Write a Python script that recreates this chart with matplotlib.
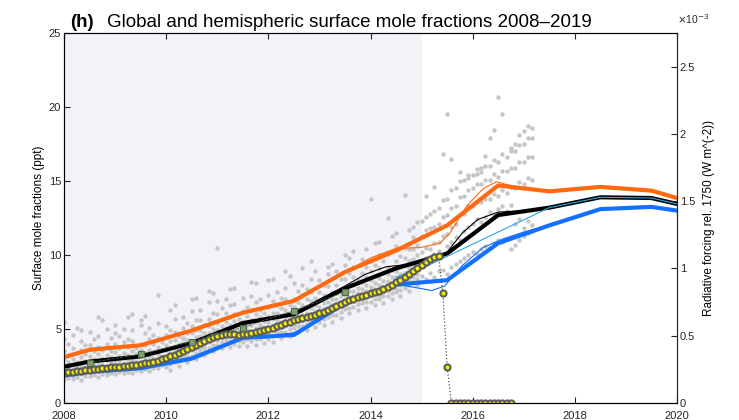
import numpy as np
import matplotlib
matplotlib.use("Agg")
import matplotlib.pyplot as plt
from matplotlib.ticker import FuncFormatter

plt.rcParams['font.family'] = ['Liberation Sans', 'DejaVu Sans']

# annual means (mid-year) plus end points, ppt
yr = [2008.0, 2008.5, 2009.5, 2010.5, 2011.5, 2012.5, 2013.5, 2014.5,
      2015.5, 2016.5, 2017.5, 2018.5, 2019.5, 2020.0]
nh = [3.1, 3.6, 3.9, 4.9, 6.1, 6.9, 8.85, 10.3, 12.0, 14.7, 14.3, 14.6, 14.35, 13.85]
glob = [2.45, 2.8, 3.15, 4.05, 5.4, 6.0, 7.75, 9.1, 10.1, 12.7, 13.2, 13.9, 13.85, 13.45]
sh = [1.85, 2.1, 2.35, 3.0, 4.4, 4.6, 6.75, 8.0, 8.3, 10.8, 12.0, 13.1, 13.25, 13.0]

# smoothed fits (thin lines)
nh_fit_x = [2008.0, 2008.5, 2009.0, 2009.5, 2010.0, 2010.5, 2011.0, 2011.5, 2012.0, 2012.5,
            2013.0, 2013.5, 2014.0, 2014.5, 2014.97, 2015.36, 2015.56, 2015.88, 2016.21,
            2016.47, 2016.73, 2017.0, 2017.5]
nh_fit = [3.05, 3.5, 3.75, 3.95, 4.35, 4.95, 5.55, 6.15, 6.5, 6.95, 7.9, 8.85, 9.8, 10.45,
          10.5, 10.8, 11.5, 13.3, 14.5, 14.95, 14.7, 14.5, 14.3]
gl_fit_x = [2008.0, 2008.5, 2009.0, 2009.5, 2010.0, 2010.5, 2011.0, 2011.5, 2012.0, 2012.5,
            2013.0, 2013.5, 2013.9, 2014.3, 2014.7, 2015.1, 2015.5, 2015.8, 2016.1, 2016.5,
            2017.0, 2017.5]
gl_fit = [2.45, 2.75, 2.95, 3.2, 3.55, 4.1, 4.75, 5.45, 5.7, 6.0, 7.0, 7.9, 8.7, 9.2, 9.35,
          9.6, 10.2, 11.5, 12.4, 12.9, 13.0, 13.2]
sh_fit_x = [2008.0, 2008.5, 2009.0, 2009.5, 2010.0, 2010.5, 2011.0, 2011.5, 2012.0, 2012.5,
            2013.0, 2013.5, 2014.0, 2014.5, 2014.8, 2015.2, 2015.45, 2015.8, 2016.2, 2016.6,
            2017.0, 2017.5]
sh_fit = [1.95, 2.15, 2.25, 2.4, 2.7, 3.1, 3.8, 4.35, 4.5, 4.75, 5.6, 6.7, 7.5, 8.0, 7.85,
          7.6, 7.9, 9.3, 10.5, 11.1, 11.55, 12.0]
alt_x = [2014.5, 2015.07, 2017.5, 2018.5, 2019.5, 2020.0]
alt = [8.5, 9.2, 13.2, 13.9, 13.85, 13.45]

# monthly global series (from 2008.0, step 1/12)
gm = [2.05, 2.08, 2.11, 2.14, 2.17, 2.2, 2.24, 2.28, 2.31, 2.34, 2.37, 2.4,
      2.43, 2.46, 2.5, 2.53, 2.56, 2.6, 2.64, 2.68, 2.72, 2.78, 2.86, 2.95,
      3.05, 3.15, 3.27, 3.4, 3.52, 3.65, 3.78, 3.92, 4.06, 4.2, 4.33, 4.45,
      4.55, 4.62, 4.65, 4.65, 4.63, 4.62, 4.64, 4.68, 4.73, 4.8, 4.88, 4.95,
      5.02, 5.1, 5.2, 5.3, 5.4, 5.5, 5.58, 5.66, 5.74, 5.82, 5.9, 5.97,
      6.05, 6.15, 6.27, 6.4, 6.53, 6.67, 6.8, 6.93, 7.05, 7.15, 7.25, 7.33,
      7.4, 7.5, 7.6, 7.72, 7.85, 8.0, 8.15, 8.32, 8.5, 8.7, 8.9, 9.1,
      9.3, 9.5, 9.7, 9.85, 9.95, 7.4, 2.45,
      0, 0, 0, 0, 0, 0, 0, 0, 0, 0, 0, 0, 0, 0, 0]

# annual global (squares)
ann_x = [2008.5, 2009.5, 2010.5, 2011.5, 2012.5, 2013.5]
ann = [2.72, 3.3, 4.15, 5.1, 6.25, 7.5]

nan = np.nan
# station data, every two months from 2008.0
st1 = [1.55, 1.6, 1.55, 1.8, 1.75, 1.9, 1.95, 2.05, 2.0, 2.15, 2.15, 2.35,
       2.45, 2.75, 3.05, 3.15, 3.5, 3.7, 3.9, 4.05, 4.0, 4.1, 4.2, 4.35,
       4.35, 4.7, 4.8, 5.05, 5.2, 5.45, 5.45, 5.8, 5.95, 6.35, 6.5, 6.75,
       6.8, 7.05, 7.2, 7.5, 7.8, 8.2]
st2 = [1.85, 1.8, 1.95, 2.0, 2.15, 2.1, 2.3, 2.25, 2.4, 2.35, 2.55, 2.6,
       2.75, 3.1, 3.25, 3.55, 3.75, 4.1, 4.25, 4.3, 4.4, 4.35, 4.5, 4.6,
       4.7, 4.9, 5.2, 5.3, 5.6, 5.65, 5.8, 6.0, 6.35, 6.55, 6.9, 6.95,
       7.2, 7.25, 7.6, 7.7, 8.15, 8.5]
st3 = [2.2, 2.15, 2.3, 2.35, 2.5, 2.45, 2.65, 2.6, 2.75, 2.7, 2.9, 2.95,
       3.1, 3.45, 3.6, 3.9, 4.1, 4.45, 4.55, 4.75, 4.7, 4.75, 4.8, 5.0,
       5.05, 5.25, 5.55, 5.65, 5.95, 6.0, 6.2, 6.35, 6.7, 6.9, 7.25, 7.3,
       7.55, 7.6, 7.95, 8.05, 8.5, 8.95]
st4 = [2.5, 2.6, 2.55, 2.8, 2.75, 2.9, 2.9, 3.05, 3.0, 3.15, 3.2, 3.3,
       3.55, 3.7, 4.05, 4.15, 4.55, 4.7, 4.95, 5.05, 5.1, 5.0, 5.25, 5.3,
       5.45, 5.6, 5.9, 6.0, 6.3, 6.4, 6.5, 6.8, 7.0, 7.3, 7.55, 7.7,
       7.85, 8.0, 8.25, 8.5, 8.8, 9.3]
st5 = [3.0, 2.95, 3.1, 3.15, 3.3, 3.25, 3.45, 3.4, 3.5, 3.6, 3.6, 3.8,
       3.9, 4.25, 4.4, 4.7, 4.9, 5.2, 5.4, 5.45, 5.55, 5.5, 5.6, 5.8,
       5.85, 6.1, 6.3, 6.5, 6.65, 6.9, 6.95, 7.2, 7.45, 7.7, 8.0, 8.15,
       8.3, 8.45, 8.7, 8.95, 9.3, 9.7]
st6 = [3.5, 3.7, 3.6, 3.9, 3.8, 4.0, 4.0, 4.1, 4.2, 4.0, 4.35, 4.4,
       4.6, 4.8, 5.1, 5.2, 5.6, 5.7, 6.0, 6.1, 6.0, 6.2, 6.3, 6.3,
       6.5, 6.6, 7.0, 7.0, 7.3, 7.5, 7.5, 7.9, 8.0, 8.4, 8.5, 8.8,
       8.9, 9.1, 9.2, 9.6, 9.8, 10.4]
st7 = [4.3, 4.6, 4.2, 4.8, 4.5, 5.0, 4.7, 5.0, 4.9, 5.3, 5.1, 5.4,
       5.2, 5.7, 5.8, 6.2, 6.3, 6.8, 6.9, 7.0, 6.7, 7.1, 7.2, 7.0,
       7.3, 7.5, 7.8, 8.1, 8.0, 8.4, 8.3, 8.7, 8.9, 9.3, 9.2, 9.7,
       9.6, 10.0, 10.1, 10.6, 10.5, 11.2]
st8 = [5.5, nan, 4.9, nan, 5.8, nan, 5.3, nan, 6.0, 5.6, nan, 7.3,
       nan, 6.6, nan, 7.0, nan, 7.6, 10.5, nan, 7.8, nan, 8.2, nan,
       8.3, nan, 8.9, nan, 9.1, 9.6, nan, 9.2, nan, 10.0, 10.3, nan,
       13.8, 10.9, 12.5, 11.5, 14.05, 11.9]
# stations sampled one month later
st9 = [1.7, 1.75, 1.8, 1.9, 1.95, 2.0, 2.1, 2.1, 2.2, 2.3, 2.35, 2.55,
       2.65, 2.95, 3.2, 3.35, 3.7, 3.95, 4.1, 4.2, 4.2, 4.3, 4.35, 4.5,
       4.55, 4.8, 5.0, 5.2, 5.35, 5.55, 5.65, 5.95, 6.15, 6.45, 6.7, 6.85,
       7.0, 7.2, 7.4, 7.65, 8.0, 8.4]
st10 = [2.05, 2.1, 2.1, 2.25, 2.3, 2.35, 2.45, 2.5, 2.55, 2.65, 2.7, 2.8,
        3.0, 3.25, 3.45, 3.7, 3.95, 4.25, 4.45, 4.55, 4.6, 4.55, 4.7, 4.8,
        4.9, 5.15, 5.35, 5.55, 5.75, 5.9, 6.0, 6.25, 6.5, 6.8, 7.05, 7.2,
        7.35, 7.5, 7.75, 7.95, 8.35, 8.75]
st11 = [2.35, 2.4, 2.45, 2.6, 2.6, 2.75, 2.8, 2.85, 2.85, 3.0, 3.05, 3.15,
        3.35, 3.6, 3.85, 4.05, 4.35, 4.6, 4.8, 4.9, 4.9, 4.95, 5.05, 5.15,
        5.25, 5.5, 5.7, 5.9, 6.1, 6.25, 6.35, 6.6, 6.85, 7.15, 7.4, 7.55,
        7.7, 7.85, 8.1, 8.3, 8.7, 9.1]
st12 = [2.75, 2.8, 2.85, 3.0, 3.05, 3.1, 3.2, 3.25, 3.3, 3.35, 3.45, 3.55,
        3.75, 4.0, 4.25, 4.45, 4.75, 5.0, 5.2, 5.3, 5.3, 5.3, 5.45, 5.55,
        5.65, 5.9, 6.1, 6.3, 6.5, 6.65, 6.75, 7.0, 7.25, 7.55, 7.8, 7.95,
        8.1, 8.25, 8.5, 8.7, 9.1, 9.5]
st13 = [3.2, 3.4, 3.3, 3.5, 3.6, 3.5, 3.7, 3.8, 3.7, 3.9, 4.0, 4.1,
        4.2, 4.5, 4.7, 4.9, 5.3, 5.4, 5.7, 5.8, 5.7, 5.9, 6.0, 6.1,
        6.1, 6.4, 6.6, 6.8, 7.0, 7.1, 7.3, 7.5, 7.7, 8.0, 8.3, 8.5,
        8.6, 8.8, 9.0, 9.2, 9.6, 10.0]
st14 = [4.0, nan, 3.9, 4.3, nan, 4.4, 4.5, 4.3, nan, 4.7, 4.6, nan,
        4.9, nan, 5.4, 5.6, nan, 6.1, 6.4, 6.6, nan, 6.5, 6.8, nan,
        6.9, 7.1, nan, 7.6, 7.7, nan, 8.0, nan, 8.4, 8.8, nan, 9.2,
        9.3, 9.6, nan, 9.9, 10.4, 10.7]
st15 = [nan, nan, nan, nan, nan, nan, nan, nan, nan, nan, nan, nan,
        2.2, 2.5, 2.75, 2.95, 3.25, 3.5, 3.7, 3.8, 3.85, 3.85, 3.95, 4.05,
        4.15, 4.4, 4.55, 4.8, 4.95, 5.15, 5.25, 5.5, 5.75, 6.05, 6.3, 6.45,
        6.6, 6.75, 7.0, 7.2, 7.6, 8.0]
st16 = [nan, 5.1, nan, nan, 5.6, nan, nan, 5.8, nan, 5.9, nan, nan,
        6.3, nan, nan, 7.1, nan, 7.4, nan, 7.7, nan, nan, 8.1, nan,
        8.4, nan, 8.6, nan, nan, 8.9, nan, 9.4, nan, 9.8, nan, 10.4,
        10.8, nan, 11.3, nan, 11.7, 12.2]

# station data, monthly from 2015.0
lt1 = [8.6, 8.4, 8.8, 8.5, 8.9, 9.0, 8.7, 9.2, 9.4, 9.6, 9.8, 10.0, 10.2, 10.1,
       10.4, 10.6, 10.5, 10.8, 11.0, 10.9, 11.1, 10.4, 10.7, 11.0, 11.3, 11.5, 11.6]
lt2 = [10.2, 10.5, 10.4, 10.8, 10.9, 11.3, 11.4, 11.9, 12.1, 12.7, 12.8, 13.3, 13.3, 13.6,
       13.6, 13.8, 13.8, 14.1, 14.0, 14.4, 14.2, 14.6, 14.5, 14.9, 14.8, 15.2, 15.1]
lt3 = [11.3, 11.7, 11.8, 11.9, 12.1, 12.6, 12.7, 13.2, 13.3, 13.9, 14.0, 14.4, 14.5, 14.8,
       14.8, 15.1, 15.1, 15.5, 15.3, 15.7, 15.7, 15.9, 15.9, 16.3, 16.3, 16.6, 16.6]
lt4 = [12.3, 12.6, 12.8, 13.0, 13.2, 13.7, 13.8, 14.4, 14.5, 15.0, 15.1, 15.4, 15.4, 15.8,
       15.6, 16.0, 16.0, 16.4, 16.3, 16.8, 16.6, 17.0, 17.0, 17.4, 17.5, 17.9, 17.9]
lt5 = [nan, 14.0, nan, 14.6, nan, 16.8, 19.5, 16.5, nan, 15.6, nan, 15.2,
       nan, 15.5, 15.9, 16.7, 17.9, 18.45, 20.65, 19.5, nan, 17.2, 17.5, 18.1,
       18.4, 18.7, 18.6]
lt6 = [9.5, 9.8, 9.6, 10.1, 10.3, 10.0, 10.6, 10.9, 11.2, 11.0, 11.6, 11.9, 12.1, 12.4,
       12.2, 12.6, 12.9, 12.7, 13.1, 13.3, 13.0, 13.4, 12.1, 12.4, 11.8, 12.3, 12.0]

rad_eff = 0.11  # W m-2 ppb-1 -> x10^-3 W m-2 per ppt

fig = plt.figure(figsize=(7.39, 4.2), dpi=100)
ax = fig.add_axes([64/739, 17/420, 613/739, 370/420])

ax.axvspan(2008, 2015, color='#f3f2f8', lw=0, zorder=0)

dot = dict(ls='none', marker='o', ms=3.2, mec='none', mfc='#c6c6c6', zorder=1)
t_a = 2008 + np.arange(len(st1)) / 6
for s in [st1, st2, st3, st4, st5, st6, st7, st8]:
    ax.plot(t_a, s, **dot)
t_b = t_a + 1 / 12
for s in [st9, st10, st11, st12, st13, st14, st15, st16]:
    ax.plot(t_b, s, **dot)
t_late = 2015 + np.arange(len(lt1)) / 12
for s in [lt1, lt2, lt3, lt4, lt5, lt6]:
    ax.plot(t_late, s, **dot)

ax.plot(nh_fit_x, nh_fit, color='#ff6a10', lw=0.8, zorder=2)
ax.plot(gl_fit_x, gl_fit, color='k', lw=0.8, zorder=2)
ax.plot(sh_fit_x, sh_fit, color='#1470ff', lw=0.8, zorder=2)

ax.plot(yr, nh, color='#ff6a10', lw=3, zorder=3)
ax.plot(yr, sh, color='#1470ff', lw=3, zorder=3)
ax.plot(yr, glob, color='k', lw=3, zorder=3)
ax.plot(alt_x, alt, color='#2aa7e6', lw=0.8, zorder=4)

t_gm = 2008 + np.arange(len(gm)) / 12
ax.plot(t_gm, gm, ':', color='#555555', lw=0.9, marker='o', ms=4.4,
        mfc='#f5f000', mec='#5c5c58', mew=1.5, zorder=5)
ax.plot(ann_x, ann, '--', color='#3c6a48', lw=0.6, marker='s', ms=4.5,
        mfc='#7fa06a', mec='#4a6a4a', mew=0.8, zorder=6)

ax.set_xlim(2008, 2020)
ax.set_ylim(0, 25)
ax.set_xticks(range(2008, 2021, 2))
ax.set_yticks(range(0, 26, 5))
ax.tick_params(direction='in', length=4, width=0.8, labelsize=8, colors='#262626',
               top=True, right=False)
ax.tick_params(axis='x', pad=5.5)
ax.tick_params(axis='y', pad=2)
for sp in ax.spines.values():
    sp.set_color('#262626')
    sp.set_linewidth(0.8)
ax.set_ylabel('Surface mole fractions (ppt)', fontsize=8.5, labelpad=3)

ax2 = ax.twinx()
ax2.set_ylim(0, 25 * rad_eff)
ax2.set_yticks([0, 0.5, 1, 1.5, 2, 2.5])
ax2.yaxis.set_major_formatter(FuncFormatter(lambda v, p: '%g' % v))
ax2.tick_params(direction='in', length=4, width=0.8, labelsize=8, colors='#262626', pad=2)
ax2.spines['right'].set_color('#262626')
ax2.set_ylabel('Radiative forcing rel. 1750 (W m^(-2))', fontsize=8.5, labelpad=6)
ax2.text(1.0, 1.02, r'$\times$10$^{-3}$', transform=ax2.transAxes, fontsize=7.5,
         color='#262626', ha='left', va='bottom')

fig.text(70/739, 1 - 27/420, '(h)', fontsize=13.5, weight='bold', va='baseline')
fig.text(107/739, 1 - 27/420, 'Global and hemispheric surface mole fractions 2008\u20132019',
         fontsize=13.5, va='baseline')

fig.savefig('out.png', dpi=100)
